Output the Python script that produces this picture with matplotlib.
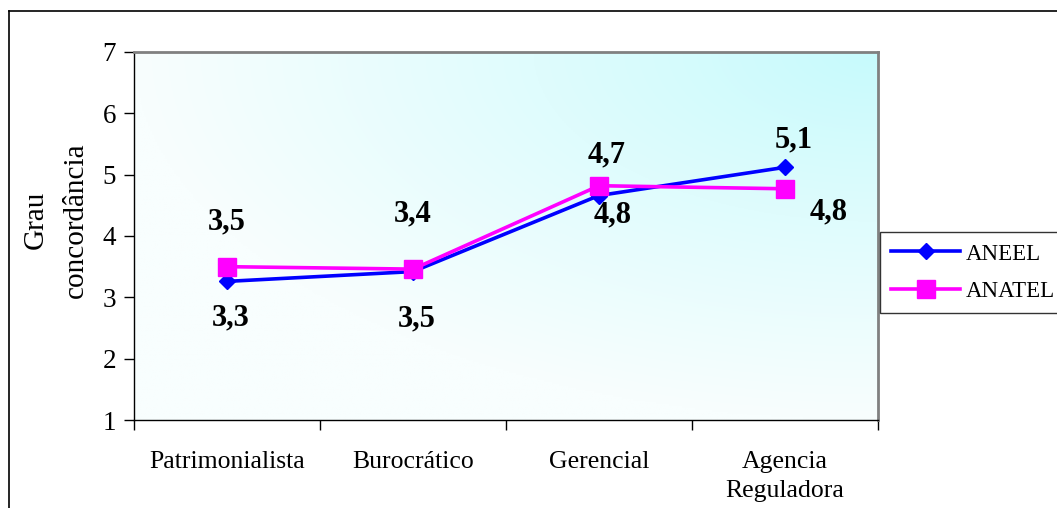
import numpy as np
import matplotlib.pyplot as plt

# ---------------- data ----------------
categorias = ['Patrimonialista', 'Burocrático', 'Gerencial', 'Agencia\nReguladora']
aneel = [3.26, 3.42, 4.66, 5.12]
anatel = [3.50, 3.46, 4.82, 4.77]

# label offsets (pixels) for each point
aneel_off = [(4, -37), (0, 58), (8, 41), (9, 27)]
anatel_off = [(0, 45), (4, -50), (14, -29), (44, -23)]

plt.rcParams['font.family'] = ['Liberation Serif', 'DejaVu Serif']

fig = plt.figure(figsize=(10.57, 5.08), dpi=100)
W, H = 1057, 508
ax = fig.add_axes([134 / W, 1 - 420 / H, (878 - 134) / W, (420 - 52) / H])

# outer frame (top and left edges visible)
fig.add_artist(plt.Line2D([9 / W, 9 / W], [0, 1 - 11 / H], color='black', lw=1.2, transform=fig.transFigure))
fig.add_artist(plt.Line2D([9 / W, 1], [1 - 11 / H, 1 - 11 / H], color='black', lw=1.2, transform=fig.transFigure))

# background: cyan in the top-right corner fading to near white
ny, nx = 200, 400
gx, gy = np.meshgrid(np.linspace(0, 1, nx), np.linspace(0, 1, ny))
r = np.sqrt((1 - gx) ** 2 + (1 - gy) ** 2)
t = np.clip(r / 1.0, 0, 1) ** 0.9
c0 = np.array([0xc6, 0xfa, 0xfc]) / 255
c1 = np.array([0xf8, 0xfe, 0xfe]) / 255
img = c0[None, None, :] * (1 - t[..., None]) + c1[None, None, :] * t[..., None]
ax.imshow(img, extent=[0, 4, 1, 7], origin='lower', aspect='auto', zorder=0)

x = np.arange(len(categorias)) + 0.5
ax.plot(x, aneel, color='#0000ff', lw=2.6, marker='D', ms=8, label='ANEEL', zorder=3)
ax.plot(x, anatel, color='#ff00ff', lw=2.6, marker='s', ms=13, label='ANATEL', zorder=4)

for xi, v, (dx, dy) in zip(x, aneel, aneel_off):
    ax.annotate(f'{v:.1f}'.replace('.', ','), (xi, v), xytext=(dx, dy), textcoords='offset pixels',
                ha='center', va='center', fontsize=22, fontweight='bold')
for xi, v, (dx, dy) in zip(x, anatel, anatel_off):
    ax.annotate(f'{v:.1f}'.replace('.', ','), (xi, v), xytext=(dx, dy), textcoords='offset pixels',
                ha='center', va='center', fontsize=22, fontweight='bold')

ax.set_xlim(0, 4)
ax.set_ylim(1, 7)
ax.set_yticks(range(1, 8))
ax.set_xticks([0, 1, 2, 3, 4])
ax.set_xticklabels([])
ax.set_xticks(x, minor=True)
ax.set_xticklabels(categorias, minor=True, fontsize=18.5, linespacing=1.45)
ax.tick_params(axis='x', which='minor', length=0, pad=22)
ax.tick_params(axis='x', which='major', length=7, direction='out', width=1)
ax.tick_params(axis='y', length=7, direction='out', width=1, labelsize=19.5, pad=6)

for s in ['top', 'right']:
    ax.spines[s].set_color('#808080')
    ax.spines[s].set_linewidth(2)
for s in ['left', 'bottom']:
    ax.spines[s].set_color('black')
    ax.spines[s].set_linewidth(1)

fig.text(56 / W, 1 - 220 / H, 'Grau\nconcordância', rotation=90, ha='center', va='center',
         fontsize=21, linespacing=1.7)

leg = fig.legend(loc='upper left', bbox_to_anchor=(880 / W, 1 - 232 / H), fontsize=16.5,
                 frameon=True, fancybox=False, edgecolor='black', handlelength=3.0,
                 borderpad=0.5, labelspacing=0.7, handletextpad=0.25, borderaxespad=0)
leg.get_frame().set_linewidth(1)

fig.savefig('out.png', dpi=100)
